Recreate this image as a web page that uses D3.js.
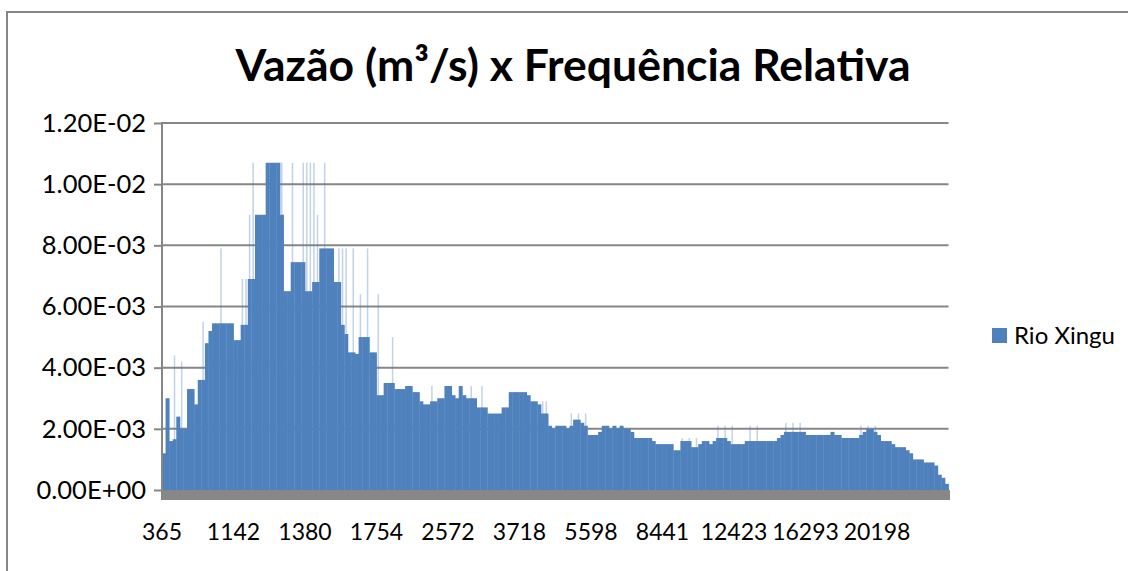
<!DOCTYPE html>
<html>
<head>
<meta charset="utf-8">
<script src="https://cdn.jsdelivr.net/npm/d3@7"></script>
<style>
  body { margin: 0; background: #fff; }
  svg text { font-family: Lato, "Open Sans", sans-serif; fill: #000; }
</style>
</head>
<body>
<svg id="chart" width="1128" height="571"></svg>
<script>
// relative frequency per flow class (one value per bar, 20 bars per label step)
var freq = [
  0.0012, 0.0030, 0.0016, 0.00166, 0.0024, 0.0020, 0.0020, 0.0033, 0.0033, 0.0028,
  0.0036, 0.0036, 0.0048, 0.0052, 0.00545, 0.00545, 0.00545, 0.00545, 0.00545, 0.00545,
  0.0049, 0.0049, 0.0054, 0.0054, 0.0069, 0.0069, 0.0090, 0.0090, 0.0090, 0.0107,
  0.0107, 0.0107, 0.0107, 0.0090, 0.0065, 0.0065, 0.00745, 0.00745, 0.00745, 0.00745,
  0.0065, 0.0065, 0.0068, 0.0068, 0.0079, 0.0079, 0.0079, 0.0079, 0.0068, 0.0068,
  0.0054, 0.0051, 0.0045, 0.0045, 0.00445, 0.0050, 0.0050, 0.0050, 0.0045, 0.0045,
  0.0031, 0.0031, 0.0035, 0.0035, 0.0035, 0.0033, 0.0033, 0.0033, 0.0034, 0.0034,
  0.0032, 0.0032, 0.0029, 0.0028, 0.0028, 0.0029, 0.0029, 0.0030, 0.0030, 0.0034,
  0.0034, 0.0031, 0.0030, 0.0034, 0.0031, 0.0030, 0.0030, 0.0030, 0.0027, 0.0027,
  0.0027, 0.0025, 0.0025, 0.0025, 0.0025, 0.0027, 0.0027, 0.0032, 0.0032, 0.0032,
  0.0032, 0.0032, 0.0031, 0.0029, 0.0029, 0.0028, 0.0025, 0.0025, 0.0021, 0.0020,
  0.0021, 0.0021, 0.0021, 0.0020, 0.0021, 0.0023, 0.0023, 0.0022, 0.0021, 0.0018,
  0.0018, 0.0018, 0.0019, 0.0021, 0.0021, 0.0020, 0.0021, 0.0020, 0.0021, 0.0020,
  0.0020, 0.0019, 0.0017, 0.0017, 0.0017, 0.0017, 0.0017, 0.0016, 0.0015, 0.0015,
  0.0015, 0.0015, 0.0015, 0.0013, 0.0013, 0.0016, 0.0016, 0.0016, 0.0014, 0.0014,
  0.0015, 0.0016, 0.0016, 0.0015, 0.0016, 0.0017, 0.0017, 0.0017, 0.0016, 0.0015,
  0.0015, 0.0015, 0.0015, 0.0016, 0.0016, 0.0016, 0.0016, 0.0016, 0.0016, 0.0016,
  0.0016, 0.0016, 0.0017, 0.0018, 0.0019, 0.0019, 0.0019, 0.0019, 0.0019, 0.0019,
  0.0018, 0.0018, 0.0018, 0.0018, 0.0018, 0.0018, 0.0018, 0.0019, 0.0018, 0.0018,
  0.0017, 0.0017, 0.0017, 0.0017, 0.0017, 0.0018, 0.0019, 0.0020, 0.0020, 0.0019,
  0.0018, 0.0016, 0.0016, 0.0016, 0.0015, 0.0014, 0.0014, 0.0014, 0.0013, 0.0012,
  0.0010, 0.0010, 0.0010, 0.0009, 0.0009, 0.0009, 0.0008, 0.0005, 0.0004, 0.0002
];

// isolated single-class peaks that show as thin pale lines (bar index, frequency)
var spikeIndex = [3, 5, 11, 16, 22, 23, 24, 25, 33, 36, 39, 40, 41, 42, 43, 45,
  49, 50, 51, 53, 55, 57, 60, 64, 75, 86, 89, 106, 107, 114, 116, 118,
  145, 147, 149, 155, 157, 159, 164, 166, 174, 176, 178, 195, 197, 199];
var spikeFreq = [0.0044, 0.0042, 0.0055, 0.0079, 0.0069, 0.0069, 0.0090, 0.0107, 0.0107, 0.0107, 0.0107, 0.0107, 0.0107, 0.0107, 0.0090, 0.0107,
  0.0079, 0.0079, 0.0079, 0.0079, 0.0064, 0.0079, 0.0064, 0.0050, 0.0034, 0.0034, 0.0034, 0.0029, 0.0029, 0.0025, 0.0025, 0.0025,
  0.0017, 0.0017, 0.0017, 0.0021, 0.0021, 0.0021, 0.0021, 0.0021, 0.0022, 0.0022, 0.0022, 0.0021, 0.0021, 0.0021];

// flow (m3/s) shown under every 20th bar
var xTickLabels = ['365', '1142', '1380', '1754', '2572', '3718', '5598', '8441', '12423', '16293', '20198'];
var xTickStep = 20;

var yTicks = [0, 0.002, 0.004, 0.006, 0.008, 0.010, 0.012];
var yTickLabels = ['0.00E+00', '2.00E-03', '4.00E-03', '6.00E-03', '8.00E-03', '1.00E-02', '1.20E-02'];

var seriesName = 'Rio Xingu';

var svg = d3.select('#chart');
var plot = {l: 162, r: 948.5, t: 123, b: 490};

// chart border (only top and left visible)
svg.append('path')
    .attr('d', 'M7,571 V12 H1128')
    .attr('fill', 'none')
    .attr('stroke', '#868686')
    .attr('stroke-width', 2);

svg.append('text')
    .attr('x', 573)
    .attr('y', 81)
    .attr('text-anchor', 'middle')
    .style('font-size', '44.5px')
    .style('font-weight', 700)
    .text('Vazão (m³/s) x Frequência Relativa');

var x = d3.scaleBand()
    .domain(d3.range(freq.length))
    .range([plot.l, plot.r])
    .padding(0);

var y = d3.scaleLinear()
    .domain([0, 0.012])
    .range([plot.b, plot.t]);

// gridlines
svg.append('g')
    .selectAll('line')
    .data(yTicks.slice(1))
    .enter().append('line')
    .attr('x1', plot.l)
    .attr('x2', plot.r)
    .attr('y1', function(d) { return y(d); })
    .attr('y2', function(d) { return y(d); })
    .attr('stroke', '#868686')
    .attr('stroke-width', 2);

// pale peaks behind the bars
svg.append('g')
    .selectAll('rect')
    .data(spikeIndex)
    .enter().append('rect')
    .attr('x', function(d) { return x(d) + x.bandwidth() / 2 - 0.75; })
    .attr('width', 1.5)
    .attr('y', function(d, i) { return y(spikeFreq[i]); })
    .attr('height', function(d, i) { return y(0) - y(spikeFreq[i]); })
    .attr('fill', '#4F81BD')
    .attr('fill-opacity', 0.35);

// bars
svg.append('g')
    .selectAll('rect')
    .data(freq)
    .enter().append('rect')
    .attr('x', function(d, i) { return x(i); })
    .attr('width', x.bandwidth() + 0.4)
    .attr('y', function(d) { return y(d); })
    .attr('height', function(d) { return y(0) - y(d); })
    .attr('fill', '#4F81BD');

// floor under the bars
svg.append('rect')
    .attr('x', plot.l)
    .attr('y', plot.b)
    .attr('width', plot.r - plot.l + 1.5)
    .attr('height', 10)
    .attr('fill', '#878787');

// y axis
var yAxis = svg.append('g')
    .attr('transform', 'translate(' + plot.l + ',0)')
    .call(d3.axisLeft(y)
        .tickValues(yTicks)
        .tickFormat(function(d, i) { return yTickLabels[i]; })
        .tickSize(8)
        .tickPadding(8));
yAxis.select('.domain').remove();
yAxis.selectAll('line').attr('stroke', '#868686').attr('stroke-width', 2);
yAxis.selectAll('text').style('font-size', '25.5px').style('font-family', 'Lato, sans-serif');
yAxis.append('line')
    .attr('y1', plot.t - 1)
    .attr('y2', plot.b + 10)
    .attr('stroke', '#868686')
    .attr('stroke-width', 2);

// x axis labels
var xAxis = svg.append('g')
    .attr('transform', 'translate(' + (-x.bandwidth() / 2) + ',' + (plot.b + 10) + ')')
    .call(d3.axisBottom(x)
        .tickValues(d3.range(0, freq.length, xTickStep))
        .tickFormat(function(d) { return xTickLabels[d / xTickStep]; })
        .tickSize(0)
        .tickPadding(24));
xAxis.select('.domain').remove();
xAxis.selectAll('text').style('font-size', '23px').style('font-family', 'Lato, sans-serif');

// legend
var legend = svg.append('g').attr('transform', 'translate(992,328)');
legend.append('rect')
    .attr('width', 15)
    .attr('height', 15)
    .attr('fill', '#4F81BD');
legend.append('text')
    .attr('x', 22)
    .attr('y', 16)
    .style('font-size', '24px')
    .text(seriesName);
</script>
</body>
</html>
